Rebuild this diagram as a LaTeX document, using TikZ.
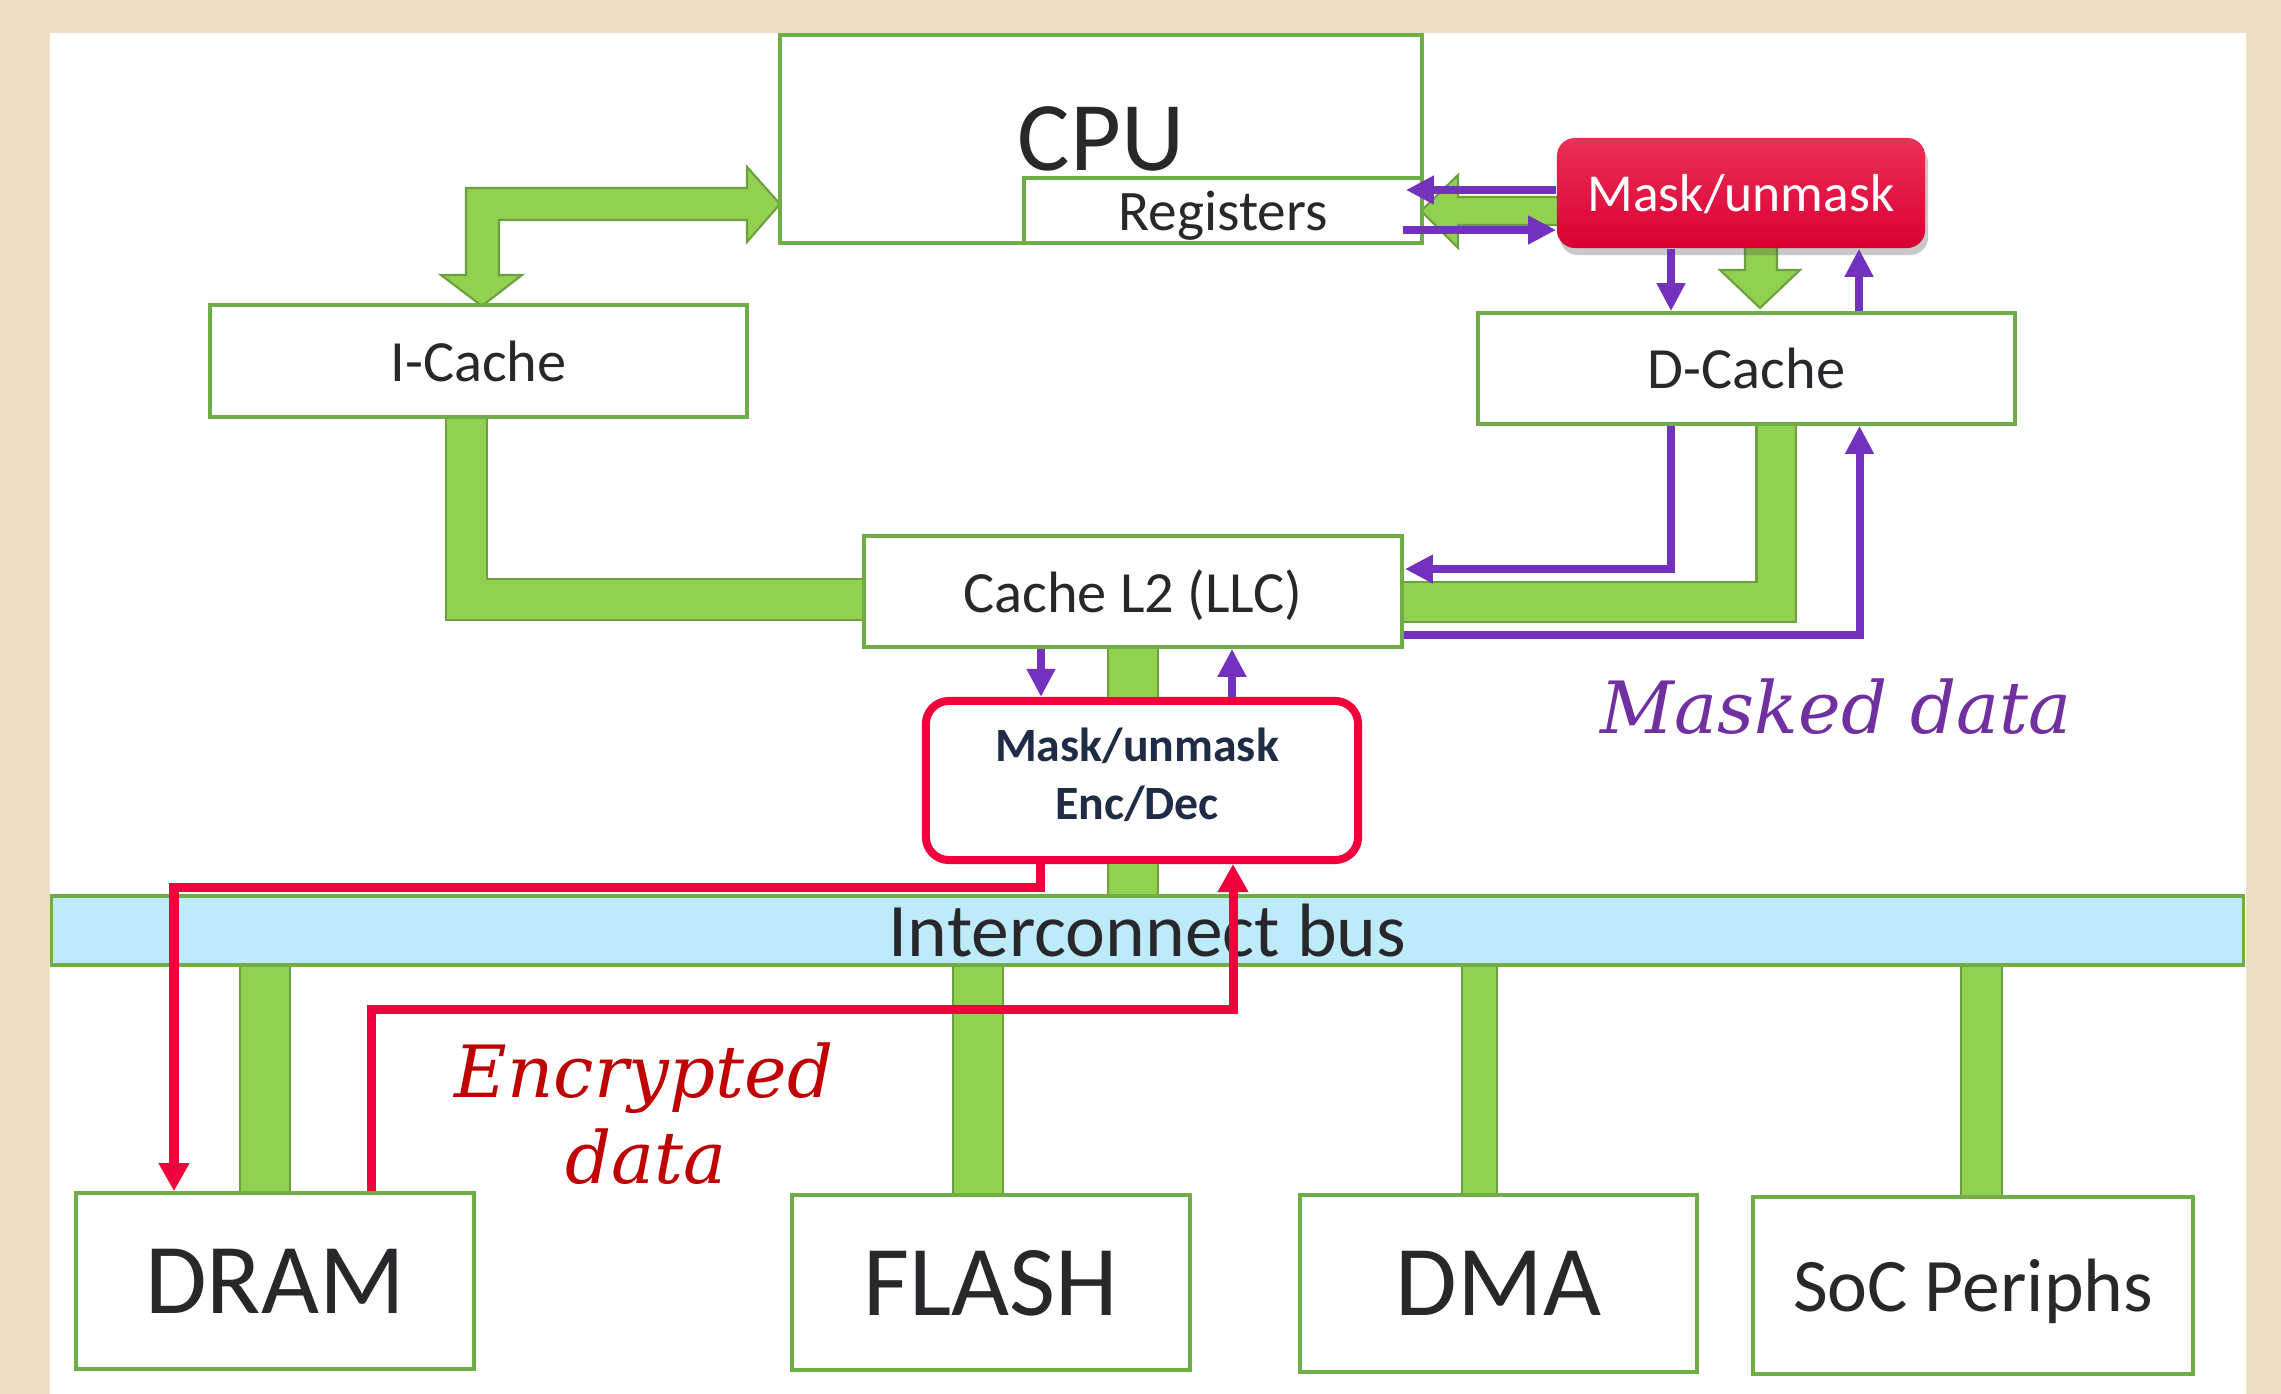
\documentclass[tikz,border=0pt]{standalone}
\usepackage{fontspec}
\setmainfont{Carlito}
\newfontfamily\dvserif{DejaVu Serif}
\usetikzlibrary{arrows.meta,shadows,calc}
\definecolor{beige}{RGB}{236,223,196}
\definecolor{boxgreen}{RGB}{112,173,71}
\definecolor{barfill}{RGB}{146,208,80}
\definecolor{bardark}{RGB}{108,160,62}
\definecolor{busfill}{RGB}{190,235,250}
\definecolor{purp}{RGB}{114,50,189}
\definecolor{maskpurple}{RGB}{112,48,160}
\definecolor{redl}{RGB}{240,0,60}
\definecolor{encred}{RGB}{192,0,0}
\definecolor{txtdark}{RGB}{40,40,44}
\definecolor{encdectxt}{RGB}{31,44,70}
\definecolor{masktop}{RGB}{234,48,86}
\definecolor{maskbot}{RGB}{218,0,52}
\begin{document}
\begin{tikzpicture}[x=0.01cm,y=-0.01cm,
  box/.style={draw=boxgreen, line width=1pt, fill=white, text=txtdark, inner sep=0pt, text depth=0pt},
  gbar/.style={draw=bardark, line width=0.6pt, double=barfill, line join=miter},
  gpoly/.style={fill=barfill, draw=bardark, line width=0.6pt, line join=miter},
  parr/.style={draw=purp, line width=0.08cm, -{Triangle[length=0.28cm,width=0.27cm]}},
  rarr/.style={draw=redl, line width=0.09cm, line join=miter, -{Triangle[length=0.28cm,width=0.29cm]}}]
% background
\fill[beige] (0,0) rectangle (2281,1394);
\useasboundingbox (0,0) rectangle (2281,1394);
\fill[white] (50,33) rectangle (2246,1394);

% block arrows (drawn under boxes)
\fill[gpoly] (466,188) -- (747,188) -- (747,167) -- (780,204) -- (747,242) -- (747,220) -- (499,220) -- (499,275) -- (522,275) -- (482,306) -- (441,275) -- (466,275) -- cycle;
\fill[gpoly] (1600,197) -- (1458,197) -- (1458,175) -- (1421,211) -- (1458,248) -- (1458,225) -- (1600,225) -- cycle;
\fill[gpoly] (1745,230) -- (1745,270) -- (1720,270) -- (1760,308) -- (1800,270) -- (1777,270) -- (1777,230) -- cycle;

% boxes
\node[box, minimum width=6.42cm, minimum height=2.08cm, font=\fontsize{28pt}{34pt}\selectfont] (cpu) at (1101,139) {CPU};
\node[box, minimum width=3.98cm, minimum height=0.65cm, font=\fontsize{16.3pt}{20pt}\selectfont] (reg) at (1223,210.5) {Registers};
\node[box, minimum width=5.37cm, minimum height=1.12cm, font=\fontsize{16.6pt}{20pt}\selectfont] (icache) at (478.5,361) {I-Cache};
\node[box, minimum width=5.37cm, minimum height=1.11cm, font=\fontsize{16.6pt}{20pt}\selectfont] (dcache) at (1746.5,368.5) {D-Cache};
\node[box, minimum width=5.38cm, minimum height=1.11cm, font=\fontsize{16.6pt}{20pt}\selectfont] (l2) at (1133,591.5) {Cache L2 (LLC)};
\node[box, fill=busfill, minimum width=21.91cm, minimum height=0.69cm, font=\fontsize{21.5pt}{26pt}\selectfont] (bus) at (1147.5,930.5) {Interconnect bus};
\node[box, minimum width=3.98cm, minimum height=1.76cm, font=\fontsize{28.5pt}{34pt}\selectfont] (dram) at (275,1281) {DRAM};
\node[box, minimum width=3.98cm, minimum height=1.75cm, font=\fontsize{28.5pt}{34pt}\selectfont] (flash) at (991,1282.5) {FLASH};
\node[box, minimum width=3.97cm, minimum height=1.77cm, font=\fontsize{28.5pt}{34pt}\selectfont] (dma) at (1498.5,1283.5) {DMA};
\node[box, minimum width=4.40cm, minimum height=1.77cm, font=\fontsize{21.5pt}{26pt}\selectfont] (soc) at (1973,1285.5) {SoC Periphs};

% red mask box (top)
\node[draw=none, rounded corners=0.18cm, top color=masktop, bottom color=maskbot,
      drop shadow={shadow xshift=0.03cm, shadow yshift=-0.07cm, opacity=0.3, fill=black!70},
      minimum width=3.68cm, minimum height=1.10cm, inner sep=0pt, text depth=0pt, text=white,
      font=\fontsize{15.2pt}{18pt}\selectfont] (maskt) at (1741,193) {Mask/unmask};

% mask / enc-dec box
\node[draw=redl, line width=0.08cm, rounded corners=0.23cm, fill=white,
      minimum width=4.32cm, minimum height=1.59cm, inner sep=0pt] (encdec) at (1142,780.5) {};
\node[text=encdectxt, align=center, inner sep=0pt, text depth=0pt,
      font=\bfseries\fontsize{13.6pt}{16.5pt}\selectfont] (encdectext) at (1137,774) {Mask/unmask\\Enc/Dec};

% green bars
\draw[gbar, double distance=0.38cm] ($(icache.south)+(-12,0)$) |- ($(l2.west)+(0,8)$);
\draw[gbar, double distance=0.37cm] ($(dcache.south)+(29.5,0)$) |- ($(l2.east)+(0,10.5)$);
\draw[gbar, double distance=0.47cm] (l2.south) -- (l2.south |- encdec.north);
\draw[gbar, double distance=0.47cm] (l2.south |- encdec.south) -- (l2.south |- bus.north);
\draw[gbar, double distance=0.48cm] ($(dram.north)+(-10,0)$) -- ($(dram.north |- bus.south)+(-10,0)$);
\draw[gbar, double distance=0.48cm] ($(flash.north)+(-13,0)$) -- ($(flash.north |- bus.south)+(-13,0)$);
\draw[gbar, double distance=0.33cm] ($(dma.north)+(-19,0)$) -- ($(dma.north |- bus.south)+(-19,0)$);
\draw[gbar, double distance=0.39cm] ($(soc.north)+(8.5,0)$) -- ($(soc.north |- bus.south)+(8.5,0)$);

% purple (masked data) arrows
\draw[parr] ($(maskt.west)+(0,-3)$) -- ($(reg.east)+(-18,-20.5)$);
\draw[parr] ($(reg.east)+(-21,19.5)$) -- ($(maskt.west)+(0,37)$);
\draw[parr] ($(maskt.south)+(-70,0)$) -- ($(dcache.north)+(-75.5,0)$);
\draw[parr] ($(dcache.north)+(112.5,0)$) -- ($(maskt.south)+(118,0)$);
\draw[parr, line join=miter] ($(dcache.south)+(-75.5,0)$) |- ($(l2.east)+(1,-22.5)$);
\draw[parr, line join=miter] ($(l2.east)+(0,43.5)$) -| ($(dcache.south)+(113,0)$);
\draw[parr] ($(l2.south)+(-92,0)$) -- ($(encdec.north)+(-101,0)$);
\draw[parr] ($(encdec.north)+(90,0)$) -- ($(l2.south)+(99,0)$);

% red (encrypted data) arrows
\draw[rarr] ($(encdec.south)+(-102,0)$) -- ++(0,23) -| ($(dram.north)+(-101,0)$);
\draw[rarr] ($(dram.north)+(96,0)$) -- ++(0,-182) -| ($(encdec.south)+(91,0)$);

% labels
\node[anchor=base, text=maskpurple, inner sep=0pt, font=\dvserif\itshape\fontsize{20.5pt}{24pt}\selectfont] (maskedlbl) at (1836,733) {Masked data};
\node[anchor=base, text=encred, inner sep=0pt, font=\dvserif\itshape\fontsize{20.5pt}{24pt}\selectfont] (enclbla) at (644,1097) {Encrypted};
\node[anchor=base, text=encred, inner sep=0pt, font=\dvserif\itshape\fontsize{20.5pt}{24pt}\selectfont] (enclblb) at (646,1183) {data};
\end{tikzpicture}
\end{document}
